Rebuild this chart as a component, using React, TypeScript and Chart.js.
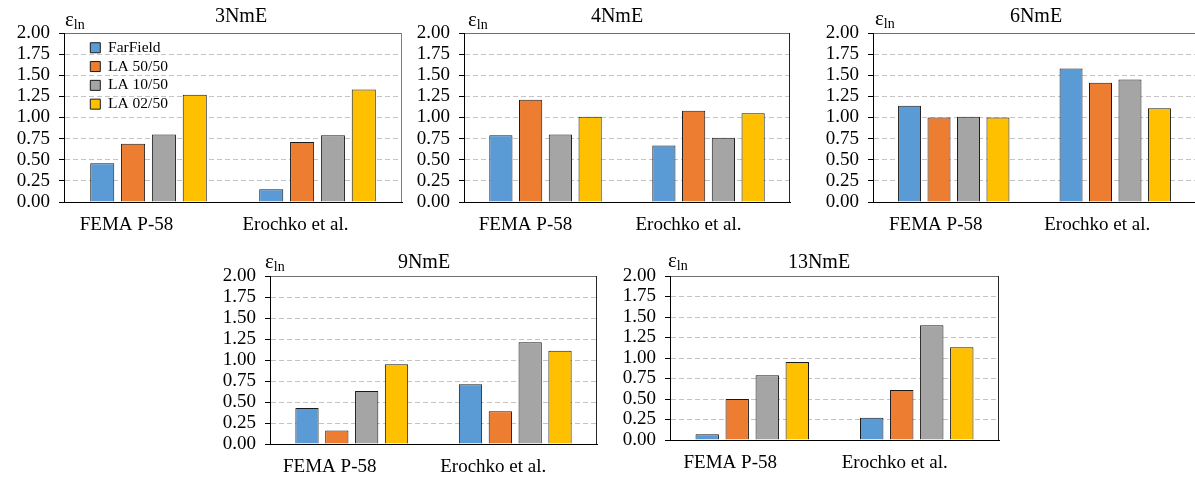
import React, { useEffect, useRef } from 'react';
import { Chart, registerables } from 'chart.js';

Chart.register(...registerables);

// ---------- data ----------
const categories = ['FEMA P-58', 'Erochko et al.'];
const seriesNames = ['FarField', 'LA 50/50', 'LA 10/50', 'LA 02/50'];
const seriesColors = ['#5B9BD5', '#ED7D31', '#A5A5A5', '#FFC000'];
const panelTitles = ['3NmE', '4NmE', '6NmE', '9NmE', '13NmE'];
const yMin = 0;
const yMax = 2;
const yStep = 0.25;

// each row: one series, values for [FEMA P-58, Erochko et al.]
const values3NmE = [
  [0.46, 0.15],
  [0.69, 0.71],
  [0.8, 0.79],
  [1.27, 1.33],
];
const values4NmE = [
  [0.79, 0.67],
  [1.21, 1.08],
  [0.8, 0.76],
  [1.01, 1.05],
];
const values6NmE = [
  [1.14, 1.58],
  [1.0, 1.41],
  [1.01, 1.45],
  [1.0, 1.11],
];
const values9NmE = [
  [0.43, 0.71],
  [0.16, 0.39],
  [0.63, 1.21],
  [0.95, 1.11],
];
const values13NmE = [
  [0.07, 0.27],
  [0.5, 0.61],
  [0.79, 1.4],
  [0.95, 1.13],
];
const panelValues = [values3NmE, values4NmE, values6NmE, values9NmE, values13NmE];

// ---------- layout (style only) ----------
const SERIF = '"Liberation Serif", "Times New Roman", Times, serif';
const Y_W = 60;
const X_H = 35;
const PAD_L = 4;
const PAD_T = 33;
const PAD_R = 4;
const PAD_B = 5;

type Layout = {
  L: number; R: number; T: number; B: number;
  titleX: number; titleY: number; epsX: number; epsY: number;
  labelOffset: number; legend: boolean; borderColor: string;
};

const layouts: Layout[] = [
  { L: 64, R: 402, T: 33, B: 202, titleX: 241, titleY: 22, epsX: 65, epsY: 26, labelOffset: -22, legend: true, borderColor: '#808080' },
  { L: 464, R: 790, T: 33, B: 202, titleX: 617, titleY: 22, epsX: 468, epsY: 26, labelOffset: -20, legend: false, borderColor: '#262626' },
  { L: 873, R: 1196, T: 33, B: 202, titleX: 1036, titleY: 22, epsX: 875, epsY: 25, labelOffset: -18, legend: false, borderColor: '#262626' },
  { L: 270, R: 597, T: 276, B: 444, titleX: 424, titleY: 268, epsX: 265, epsY: 268, labelOffset: -22, legend: false, borderColor: '#262626' },
  { L: 670, R: 999, T: 276, B: 440, titleX: 819, titleY: 268, epsX: 668, epsY: 267, labelOffset: -22, legend: false, borderColor: '#262626' },
];

const panelDecor = {
  id: 'panelDecor',
  beforeDraw(chart: any, _args: any, opts: any) {
    if (opts.legend && chart.legend) {
      chart.legend.left = chart.chartArea.left + 23;
      chart.legend.top = chart.chartArea.top + 3.7;
    }
  },
  afterDraw(chart: any, _args: any, opts: any) {
    const ctx = chart.ctx as CanvasRenderingContext2D;
    const a = chart.chartArea;
    ctx.save();
    ctx.strokeStyle = opts.borderColor;
    ctx.lineWidth = 1;
    const xr = Math.round(a.right) - 0.5;
    ctx.beginPath();
    ctx.moveTo(xr, a.top);
    ctx.lineTo(xr, a.bottom);
    ctx.stroke();

    ctx.fillStyle = '#000';
    ctx.textBaseline = 'alphabetic';
    ctx.textAlign = 'center';
    ctx.font = `20px ${SERIF}`;
    ctx.fillText(opts.title, opts.titleX, opts.titleY);

    ctx.textAlign = 'left';
    ctx.font = `21px ${SERIF}`;
    ctx.fillText('ε', opts.epsX, opts.epsY);
    const w = ctx.measureText('ε').width;
    ctx.font = `14px ${SERIF}`;
    ctx.fillText('ln', opts.epsX + w, opts.epsY + 3);
    ctx.restore();
  },
};

function Panel({ index }: { index: number }) {
  const ref = useRef<HTMLCanvasElement | null>(null);
  const lay = layouts[index];
  const cx = lay.L - Y_W - PAD_L;
  const cy = lay.T - PAD_T;
  const cw = lay.R - cx + PAD_R;
  const ch = lay.B - cy + X_H + PAD_B;

  useEffect(() => {
    if (!ref.current) return;
    const vals = panelValues[index];
    const chart = new Chart(ref.current, {
      type: 'bar',
      data: {
        labels: categories,
        datasets: seriesNames.map((name, i) => ({
          label: name,
          data: vals[i],
          backgroundColor: seriesColors[i],
          borderColor: '#1a1a1a',
          borderWidth: 1,
          barPercentage: 0.78,
          categoryPercentage: 0.73,
        })),
      },
      options: {
        responsive: false,
        animation: false,
        events: [],
        layout: { padding: { left: PAD_L, top: PAD_T, right: PAD_R, bottom: PAD_B } },
        plugins: {
          legend: lay.legend
            ? {
                display: true,
                position: 'chartArea',
                align: 'start',
                labels: {
                  boxWidth: 10,
                  boxHeight: 10,
                  padding: 3.3,
                  color: '#000',
                  font: { family: SERIF, size: 15.5 },
                },
              }
            : { display: false },
          tooltip: { enabled: false },
          title: { display: false },
          panelDecor: {
            legend: lay.legend,
            borderColor: lay.borderColor,
            title: panelTitles[index],
            titleX: lay.titleX - cx,
            titleY: lay.titleY - cy,
            epsX: lay.epsX - cx,
            epsY: lay.epsY - cy,
          },
        } as any,
        scales: {
          x: {
            grid: { display: false, drawTicks: false },
            border: { display: true, color: '#000', width: 1 },
            ticks: {
              color: '#000',
              font: { family: SERIF, size: 19 },
              padding: 12,
              labelOffset: lay.labelOffset,
              maxRotation: 0,
              autoSkip: false,
            },
            afterFit: (s: any) => {
              s.height = X_H;
            },
          },
          y: {
            min: yMin,
            max: yMax,
            ticks: {
              stepSize: yStep,
              autoSkip: false,
              color: '#000',
              font: { family: SERIF, size: 19 },
              padding: 9,
              callback: (v: any) => Number(v).toFixed(2),
            },
            grid: {
              color: (c: any) =>
                c.tick && c.tick.value === yMax
                  ? '#6F6F6F'
                  : c.tick && c.tick.value === yMin
                  ? 'rgba(0,0,0,0)'
                  : '#C4C4C4',
              tickColor: '#000',
              tickLength: 5,
              lineWidth: 1,
            },
            border: {
              display: true,
              color: '#000',
              width: 1,
              dash: (c: any) => (c.tick && c.tick.value === yMax ? [] : [5, 3]),
            },
            afterFit: (s: any) => {
              s.width = Y_W;
            },
          },
        } as any,
      },
      plugins: [panelDecor as any],
    } as any);
    return () => chart.destroy();
  }, [index]);

  return (
    <canvas
      ref={ref}
      width={cw}
      height={ch}
      style={{ position: 'absolute', left: cx, top: cy, width: cw, height: ch }}
    />
  );
}

export default function App() {
  return (
    <div
      style={{
        position: 'absolute',
        left: 0,
        top: 0,
        width: 1195,
        height: 477,
        overflow: 'hidden',
        background: '#fff',
      }}
    >
      {panelTitles.map((_, i) => (
        <Panel key={i} index={i} />
      ))}
    </div>
  );
}
